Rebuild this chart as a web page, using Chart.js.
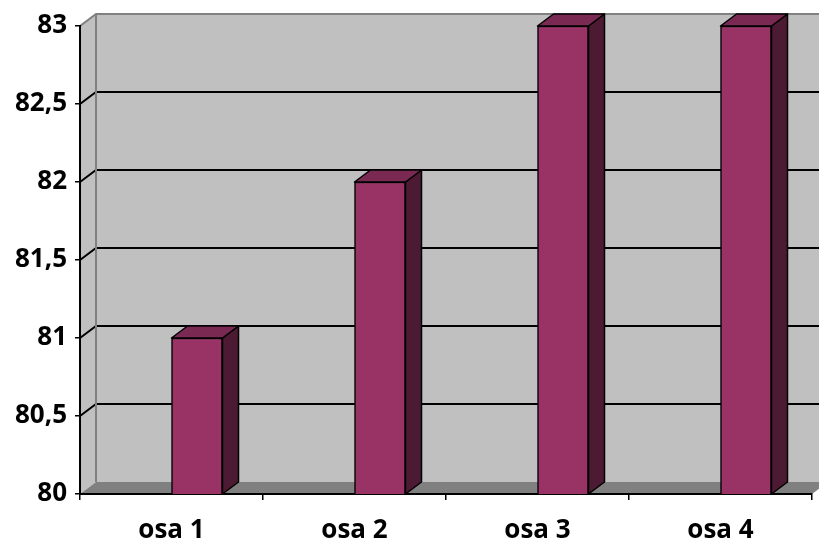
<!DOCTYPE html>
<html>
<head>
<meta charset="utf-8">
<script src="https://cdn.jsdelivr.net/npm/chart.js@4"></script>
<style>
  body { margin: 0; background: #fff; }
  #wrap { width: 819px; height: 545px; }
</style>
</head>
<body>
<div id="wrap"><canvas id="chart" width="819" height="545"></canvas></div>
<script>
const categories = ["osa 1", "osa 2", "osa 3", "osa 4"];
const values = [81, 82, 83, 83];
const yMin = 80;
const yMax = 83;
const yStep = 0.5;

// depth of the fake 3D box
const DX = 16;
const DY = 12;

const wallPlugin = {
  id: "wall3d",
  beforeDraw(chart) {
    const { ctx, chartArea: a, scales } = chart;
    const y = scales.y;
    ctx.save();
    // back wall
    ctx.fillStyle = "#c0c0c0";
    ctx.fillRect(a.left + DX, a.top - DY, a.right - a.left, a.bottom - a.top);
    // left side wall
    ctx.beginPath();
    ctx.moveTo(a.left, a.top);
    ctx.lineTo(a.left + DX, a.top - DY);
    ctx.lineTo(a.left + DX, a.bottom - DY);
    ctx.lineTo(a.left, a.bottom);
    ctx.closePath();
    ctx.fill();
    // floor
    ctx.fillStyle = "#808080";
    ctx.beginPath();
    ctx.moveTo(a.left, a.bottom);
    ctx.lineTo(a.left + DX, a.bottom - DY);
    ctx.lineTo(a.right + DX, a.bottom - DY);
    ctx.lineTo(a.right, a.bottom);
    ctx.closePath();
    ctx.fill();
    // grid lines on the walls
    ctx.strokeStyle = "#000";
    ctx.lineWidth = 2;
    y.ticks.forEach(t => {
      if (t.value <= yMin || t.value >= yMax) return;
      const py = y.getPixelForValue(t.value);
      ctx.beginPath();
      ctx.moveTo(a.left, py);
      ctx.lineTo(a.left + DX, py - DY);
      ctx.lineTo(a.right + DX, py - DY);
      ctx.stroke();
    });
    // wall edges
    ctx.strokeStyle = "#808080";
    ctx.lineWidth = 2;
    ctx.beginPath();
    ctx.moveTo(a.left, a.top);
    ctx.lineTo(a.left + DX, a.top - DY);
    ctx.lineTo(a.right + DX, a.top - DY);
    ctx.moveTo(a.left + DX, a.top - DY);
    ctx.lineTo(a.left + DX, a.bottom - DY);
    ctx.stroke();
    ctx.restore();
  },
  beforeDatasetDraw(chart, args) {
    const el = chart.getDatasetMeta(args.index).data[0];
    chart.ctx.save();
    chart.ctx.translate(el ? el.width / 2 : 0, 0);
  },
  afterDatasetDraw(chart, args) {
    const { ctx } = chart;
    const floor = chart.scales.y.getPixelForValue(yMin);
    const meta = chart.getDatasetMeta(args.index);
    meta.data.forEach(el => {
      const l = el.x - el.width / 2;
      const r = el.x + el.width / 2;
      const base = Math.min(el.base, floor);
      ctx.lineWidth = 1.5;
      ctx.strokeStyle = "#000";
      ctx.lineJoin = "round";
      // side face
      ctx.fillStyle = "#4d1a33";
      ctx.beginPath();
      ctx.moveTo(r, el.y);
      ctx.lineTo(r + DX, el.y - DY);
      ctx.lineTo(r + DX, base - DY);
      ctx.lineTo(r, base);
      ctx.closePath();
      ctx.fill();
      ctx.stroke();
      // top face
      ctx.fillStyle = "#7a2952";
      ctx.beginPath();
      ctx.moveTo(l, el.y);
      ctx.lineTo(l + DX, el.y - DY);
      ctx.lineTo(r + DX, el.y - DY);
      ctx.lineTo(r, el.y);
      ctx.closePath();
      ctx.fill();
      ctx.stroke();
    });
    ctx.restore();
  }
};

const font = { family: "'Open Sans', 'Liberation Sans', sans-serif", size: 26, weight: "bold" };

new Chart(document.getElementById("chart"), {
  type: "bar",
  data: {
    labels: categories,
    datasets: [{
      data: values,
      backgroundColor: "#993366",
      borderColor: "#000",
      borderWidth: 1.5,
      barThickness: 51,
      borderSkipped: false
    }]
  },
  options: {
    responsive: false,
    animation: false,
    layout: { padding: { top: 26, right: 7, left: 0, bottom: 0 } },
    plugins: { legend: { display: false }, tooltip: { enabled: false } },
    scales: {
      x: {
        grid: { offset: true, drawOnChartArea: false, color: "#000", lineWidth: 1.5, tickLength: 6 },
        border: { color: "#000", width: 2 },
        ticks: { color: "#000", font, padding: 15 },
        afterFit(s) { s.height = 51; }
      },
      y: {
        min: yMin,
        max: yMax,
        grid: { drawOnChartArea: false, color: "#000", lineWidth: 1.5, tickLength: 5 },
        border: { color: "#000", width: 2 },
        ticks: {
          stepSize: yStep,
          color: "#000",
          font,
          padding: 8,
          callback: v => String(v).replace(".", ",")
        },
        afterFit(s) { s.width = 80; }
      }
    }
  },
  plugins: [wallPlugin]
});
</script>
</body>
</html>
